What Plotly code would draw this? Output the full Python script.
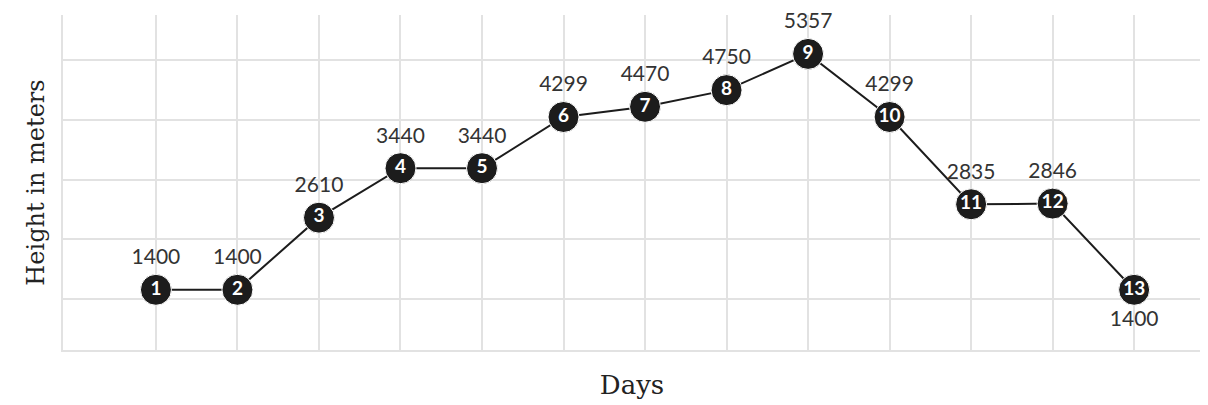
import plotly.graph_objects as go

days = list(range(1, 14))
heights = [1400, 1400, 2610, 3440, 3440, 4299, 4470, 4750, 5357, 4299, 2835, 2846, 1400]
day_labels = [str(d) for d in days]
value_labels = [str(h) for h in heights]
label_positions = ["top center"] * 12 + ["bottom center"]

ink = "#1c1c1c"
grid = "#e2e2e2"

fig = go.Figure()

fig.add_trace(go.Scatter(
    x=days, y=heights,
    mode="lines+markers+text",
    line=dict(color=ink, width=2),
    marker=dict(size=31, color=ink, line=dict(color="white", width=1)),
    text=day_labels,
    textposition="middle center",
    textfont=dict(family="Lato", size=19, color="white", weight="bold"),
    hoverinfo="skip",
    showlegend=False,
    cliponaxis=False,
))

fig.add_trace(go.Scatter(
    x=days, y=heights,
    mode="markers+text",
    marker=dict(size=31, color="rgba(0,0,0,0)"),
    text=value_labels,
    textposition=label_positions,
    textfont=dict(family="Lato", size=21, color="#333333"),
    hoverinfo="skip",
    showlegend=False,
    cliponaxis=False,
))

fig.update_xaxes(
    range=[-0.14, 13.82],
    tickvals=days,
    showticklabels=False,
    ticks="",
    showgrid=True, gridcolor=grid, gridwidth=2,
    zeroline=False,
    showline=True, linecolor=grid, linewidth=2, mirror=False,
    title=dict(text="Days", font=dict(family="DejaVu Serif", size=26, color="#222222"), standoff=25),
)
fig.update_yaxes(
    range=[390, 6010],
    tick0=250, dtick=1000,
    showticklabels=False,
    ticks="",
    showgrid=True, gridcolor=grid, gridwidth=2,
    zeroline=False,
    showline=True, linecolor=grid, linewidth=2,
    title=dict(text="Height in meters", font=dict(family="DejaVu Serif", size=24, color="#222222"), standoff=10),
)

# right border of plot area
fig.add_shape(type="line", xref="paper", yref="paper", x0=1, x1=1, y0=0, y1=1,
              line=dict(color=grid, width=2), layer="below")

fig.update_layout(
    width=1208, height=405,
    margin=dict(l=55, r=15, t=7, b=63, autoexpand=False),
    plot_bgcolor="white", paper_bgcolor="white",
)

fig.write_html("out.html")
